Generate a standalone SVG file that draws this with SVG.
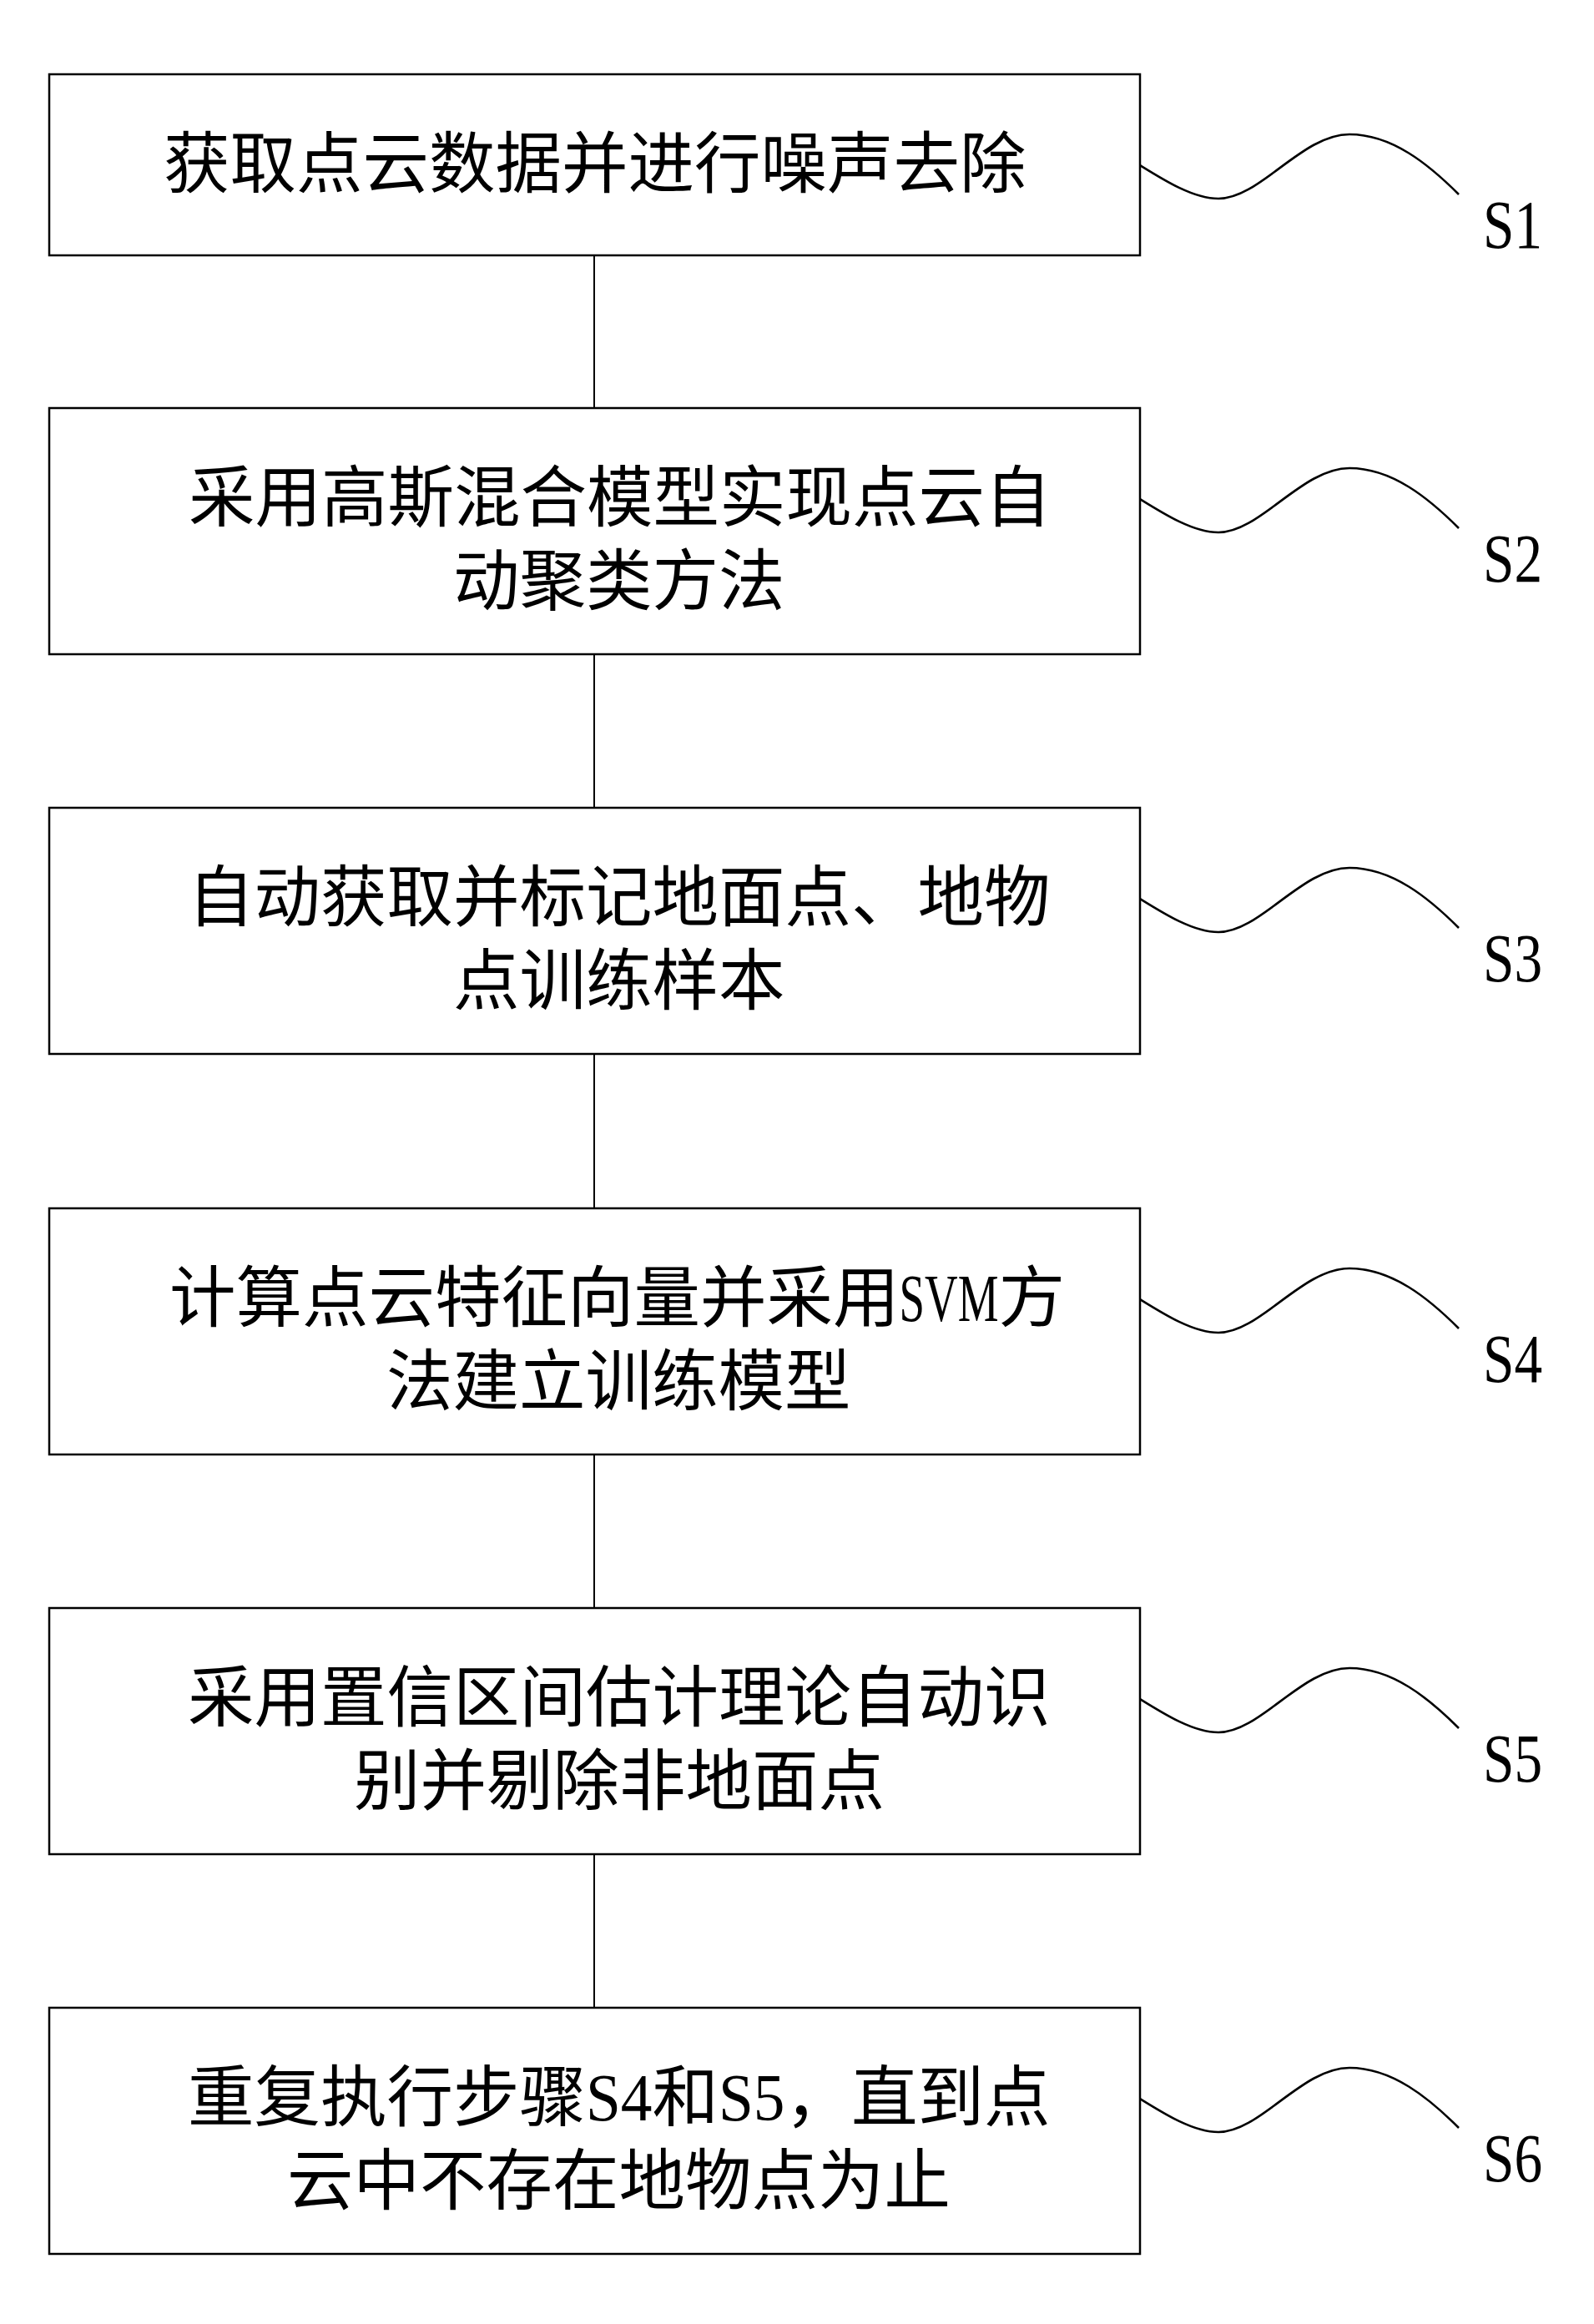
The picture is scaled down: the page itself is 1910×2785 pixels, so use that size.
<svg xmlns="http://www.w3.org/2000/svg" xmlns:xlink="http://www.w3.org/1999/xlink" width="1910" height="2785" viewBox="0 0 1910 2785">
<style>
.box{fill:#fff;stroke:#000;stroke-width:2.5}
.conn{stroke:#000;stroke-width:2;fill:none}
.wave{stroke:#000;stroke-width:2.6;fill:none}
.t{font-family:"Noto Sans CJK SC","Liberation Serif",serif;font-size:79.5px;fill:#000}
.lat{font-family:"Liberation Serif",serif}
.lbl{font-family:"Liberation Serif",serif;font-size:83px;fill:#000}
</style>
<defs>
<path id="wv" d="M1366,109 C1395,127 1430,149 1460,149 C1510,149 1560,72 1617,72 C1668,72 1712,108 1748,144"/>
</defs>
<rect width="1910" height="2785" fill="#fff"/>
<g id="connectors">
<line class="conn" x1="712" y1="306" x2="712" y2="489"/>
<line class="conn" x1="712" y1="784" x2="712" y2="968"/>
<line class="conn" x1="712" y1="1263" x2="712" y2="1448"/>
<line class="conn" x1="712" y1="1743" x2="712" y2="1927"/>
<line class="conn" x1="712" y1="2222" x2="712" y2="2406"/>
<use xlink:href="#wv" class="wave" transform="translate(0,89)"/>
<use xlink:href="#wv" class="wave" transform="translate(0,489)"/>
<use xlink:href="#wv" class="wave" transform="translate(0,968)"/>
<use xlink:href="#wv" class="wave" transform="translate(0,1448)"/>
<use xlink:href="#wv" class="wave" transform="translate(0,1927)"/>
<use xlink:href="#wv" class="wave" transform="translate(0,2406)"/>
</g>
<g id="S1">
<rect class="box" x="59" y="89" width="1307" height="217"/>
<text class="t" x="196" y="224">获取点云数据并进行噪声去除</text>
<text class="lbl" x="1777" y="297" textLength="71" lengthAdjust="spacingAndGlyphs">S1</text>
</g>
<g id="S2">
<rect class="box" x="59" y="489" width="1307" height="295"/>
<text class="t"><tspan x="226" y="624">采用高斯混合模型实现点云自</tspan><tspan x="543" y="724">动聚类方法</tspan></text>
<text class="lbl" x="1777" y="697" textLength="71" lengthAdjust="spacingAndGlyphs">S2</text>
</g>
<g id="S3">
<rect class="box" x="59" y="968" width="1307" height="295"/>
<text class="t"><tspan x="225" y="1103">自动获取并标记地面点、地物</tspan><tspan x="543" y="1203">点训练样本</tspan></text>
<text class="lbl" x="1777" y="1176" textLength="71" lengthAdjust="spacingAndGlyphs">S3</text>
</g>
<g id="S4">
<rect class="box" x="59" y="1448" width="1307" height="295"/>
<text class="t"><tspan x="203" y="1583">计算点云特征向量并采用</tspan><tspan class="lat" textLength="119" lengthAdjust="spacingAndGlyphs">SVM</tspan><tspan>方</tspan><tspan x="463" y="1683">法建立训练模型</tspan></text>
<text class="lbl" x="1777" y="1656" textLength="71" lengthAdjust="spacingAndGlyphs">S4</text>
</g>
<g id="S5">
<rect class="box" x="59" y="1927" width="1307" height="295"/>
<text class="t"><tspan x="225" y="2062">采用置信区间估计理论自动识</tspan><tspan x="424" y="2162">别并剔除非地面点</tspan></text>
<text class="lbl" x="1777" y="2135" textLength="71" lengthAdjust="spacingAndGlyphs">S5</text>
</g>
<g id="S6">
<rect class="box" x="59" y="2406" width="1307" height="295"/>
<text class="t"><tspan x="225" y="2541">重复执行步骤</tspan><tspan class="lat" textLength="79.5" lengthAdjust="spacingAndGlyphs">S4</tspan><tspan>和</tspan><tspan class="lat" textLength="79.5" lengthAdjust="spacingAndGlyphs">S5</tspan><tspan>，直到点</tspan><tspan x="344" y="2641">云中不存在地物点为止</tspan></text>
<text class="lbl" x="1777" y="2614" textLength="71" lengthAdjust="spacingAndGlyphs">S6</text>
</g>
</svg>
